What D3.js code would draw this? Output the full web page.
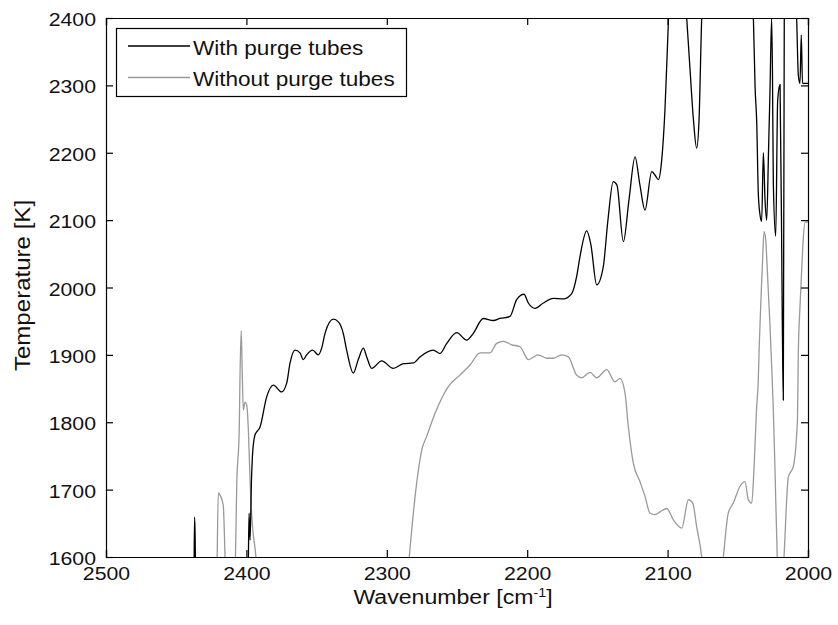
<!DOCTYPE html>
<html>
<head>
<meta charset="utf-8">
<script src="https://cdn.jsdelivr.net/npm/d3@7"></script>
<style>
  html, body { margin: 0; padding: 0; background: #fff; }
  svg { display: block; }
  text { font-family: "Liberation Sans", Arial, sans-serif; fill: #111; }
</style>
</head>
<body>
<svg id="chart" width="838" height="625"></svg>
<script>
// ---- Data ----
const xTicks = [2500, 2400, 2300, 2200, 2100, 2000];
const yTicks = [1600, 1700, 1800, 1900, 2000, 2100, 2200, 2300, 2400];
const seriesNames = ["With purge tubes", "Without purge tubes"];

// With purge tubes: [wavenumber, temperature]
const withPurge = [
  [2500, 1450], [2437.5, 1550], [2436.9, 1659], [2436.5, 1629], [2436.1, 1550],
  [2410, 1450], [2398.9, 1560], [2398.1, 1665], [2397.4, 1625], [2396.4, 1714],
  [2395.7, 1750], [2394.6, 1774], [2393.9, 1781], [2390.3, 1793], [2385.5, 1838],
  [2380.8, 1855], [2374.9, 1845], [2371.3, 1858], [2368.9, 1888], [2365.4, 1907],
  [2361.8, 1903], [2359.5, 1893], [2357.1, 1900], [2352.8, 1907], [2348.8, 1900],
  [2346.4, 1910], [2344.0, 1932], [2338.1, 1953], [2334.5, 1949], [2331.0, 1932],
  [2328.6, 1907], [2323.9, 1873], [2320.3, 1893], [2316.7, 1910], [2314.3, 1897],
  [2310.8, 1880], [2303.6, 1891], [2295.4, 1880], [2288.2, 1887], [2281.1, 1888],
  [2276.4, 1897], [2266.9, 1907], [2262.1, 1902], [2257.3, 1917], [2250.2, 1933],
  [2243.1, 1922], [2238.4, 1932], [2231.3, 1954], [2224.1, 1951], [2219.4, 1954],
  [2212.3, 1957], [2207.5, 1982], [2202.3, 1990], [2199.2, 1977], [2194.4, 1969],
  [2188.5, 1977], [2181.4, 1984], [2174.3, 1983], [2168.3, 1991], [2164.8, 2016],
  [2162.4, 2046], [2157.6, 2084], [2154.6, 2063], [2150.5, 2004], [2145.8, 2031],
  [2142.5, 2100], [2138.7, 2157], [2136.1, 2152], [2131.5, 2068], [2127.5, 2130],
  [2123.2, 2194], [2119.7, 2152], [2116.1, 2115], [2111.3, 2172], [2109.0, 2167],
  [2106.6, 2160], [2104.2, 2189], [2101.9, 2263], [2100.2, 2352], [2098.3, 2440],
  [2088.3, 2460], [2086.4, 2400], [2084.0, 2323], [2081.6, 2249], [2079.3, 2207],
  [2077.6, 2249], [2075.7, 2400], [2074.8, 2440], [2039.9, 2440], [2038.9, 2400],
  [2037.7, 2298], [2036.5, 2244], [2035.4, 2140], [2034.2, 2108], [2033.0, 2098],
  [2031.8, 2200], [2030.6, 2130], [2029.4, 2100], [2028.1, 2204], [2027.1, 2289],
  [2025.9, 2400], [2025.3, 2318], [2024.7, 2155], [2023.0, 2076], [2021.6, 2278],
  [2019.9, 2301], [2018.3, 1948], [2017.6, 1833], [2016.9, 2400], [2016.4, 2450],
  [2009.3, 2450], [2008.1, 2400], [2006.9, 2315], [2005.7, 2303], [2004.8, 2375],
  [2003.9, 2303], [2000, 2303]
];

// Without purge tubes: [wavenumber, temperature]
const withoutPurge = [
  [2500, 1450], [2440, 1450], [2421.3, 1550], [2420.0, 1695], [2418.8, 1692],
  [2416.5, 1677], [2415.2, 1600], [2414.5, 1550], [2408.8, 1550], [2407.8, 1600],
  [2406.9, 1705], [2405.1, 1789], [2404.6, 1863], [2403.7, 1936], [2403.0, 1878],
  [2402.2, 1818], [2401.0, 1830], [2399.8, 1826], [2398.6, 1789], [2397.4, 1714],
  [2396.0, 1655], [2393.2, 1600], [2391.8, 1560], [2370, 1450], [2290, 1450],
  [2285.6, 1560], [2284.0, 1600], [2278.7, 1710], [2275.1, 1759], [2271.6, 1779],
  [2265.7, 1813], [2256.2, 1853], [2247.9, 1870], [2240.7, 1885], [2233.6, 1903],
  [2226.5, 1903], [2221.7, 1917], [2217.0, 1920], [2211.0, 1915], [2205.1, 1912],
  [2199.2, 1893], [2192.1, 1900], [2186.1, 1895], [2181.4, 1895], [2175.4, 1900],
  [2170.7, 1897], [2164.8, 1870], [2161.2, 1866], [2155.3, 1874], [2150.5, 1866],
  [2143.4, 1878], [2137.5, 1860], [2133.9, 1865], [2130.3, 1843], [2128.0, 1794],
  [2124.4, 1739], [2119.7, 1712], [2116.1, 1690], [2112.5, 1665], [2109.0, 1663],
  [2105.4, 1667], [2100.6, 1672], [2095.9, 1655], [2089.9, 1643], [2085.2, 1685],
  [2082.1, 1680], [2079.3, 1645], [2075.7, 1600], [2074.1, 1566], [2062.0, 1566],
  [2060.3, 1600], [2056.8, 1665], [2053.2, 1680], [2048.4, 1705], [2044.9, 1712],
  [2042.5, 1685], [2040.1, 1680], [2038.5, 1729], [2036.7, 1818], [2035.4, 1863],
  [2034.7, 1915], [2033.5, 1982], [2032.3, 2044], [2031.3, 2083], [2030.1, 2071],
  [2029.4, 2044], [2028.3, 1996], [2027.1, 1945], [2025.9, 1885], [2024.7, 1818],
  [2023.5, 1729], [2021.9, 1600], [2020.7, 1550], [2018.5, 1550], [2017.1, 1600],
  [2014.0, 1719], [2010.5, 1734], [2007.5, 1804], [2006.9, 1903], [2005.7, 1972],
  [2004.5, 2026], [2003.3, 2075], [2002.1, 2097], [2000, 2097]
];

// ---- Layout ----
const svg = d3.select("#chart");
const mLeft = 106, mRight = 808, mTop = 18, mBottom = 557;
const stretch = 1.12; // reference font is wider than Liberation Sans

const x = d3.scaleLinear().domain([2500, 2000]).range([mLeft, mRight]);
const y = d3.scaleLinear().domain([1600, 2400]).range([mBottom, mTop]);

svg.append("defs").append("clipPath").attr("id", "plotclip")
  .append("rect").attr("x", mLeft).attr("y", mTop)
  .attr("width", mRight - mLeft).attr("height", mBottom - mTop);

const line = d3.line().x(d => x(d[0])).y(d => y(d[1])).curve(d3.curveMonotoneX);

const plot = svg.append("g").attr("clip-path", "url(#plotclip)");
plot.append("path").datum(withoutPurge)
  .attr("d", line).attr("fill", "none")
  .attr("stroke", "#999").attr("stroke-width", 1.3);
plot.append("path").datum(withPurge)
  .attr("d", line).attr("fill", "none")
  .attr("stroke", "#000").attr("stroke-width", 1.3);

// ---- Axes (MATLAB box style, inward ticks) ----
const tickLen = 7;
const fsTick = 19;

const axB = svg.append("g").attr("transform", `translate(0,${mBottom})`)
  .call(d3.axisBottom(x).tickValues(xTicks).tickSize(-tickLen).tickFormat(d3.format("d")));
const axT = svg.append("g").attr("transform", `translate(0,${mTop})`)
  .call(d3.axisTop(x).tickValues(xTicks).tickSize(-tickLen).tickFormat(""));
const axL = svg.append("g").attr("transform", `translate(${mLeft},0)`)
  .call(d3.axisLeft(y).tickValues(yTicks).tickSize(-tickLen).tickFormat(d3.format("d")));
const axR = svg.append("g").attr("transform", `translate(${mRight},0)`)
  .call(d3.axisRight(y).tickValues(yTicks).tickSize(-tickLen).tickFormat(""));

[axB, axT, axL, axR].forEach(a => {
  a.select(".domain").attr("stroke", "#000").attr("stroke-width", 1.2);
  a.selectAll(".tick line").attr("stroke", "#000").attr("stroke-width", 1.2);
  a.selectAll("text").attr("font-size", fsTick)
    .attr("font-family", "'Liberation Sans', Arial, sans-serif").attr("fill", "#111");
});
axB.selectAll(".tick text").attr("dy", null).attr("x", 0).attr("y", 0)
  .attr("transform", `translate(0,23) scale(${stretch},1)`);
axL.selectAll(".tick text").attr("dy", null).attr("x", 0).attr("y", 0)
  .attr("transform", `translate(-10,7.5) scale(${stretch},1)`);

// ---- Axis labels ----
const xl = svg.append("text")
  .attr("transform", `translate(453,603.5) scale(1.1,1)`)
  .attr("text-anchor", "middle").attr("font-size", 21);
xl.append("tspan").text("Wavenumber [cm");
xl.append("tspan").text("-1").attr("font-size", 13).attr("dy", -7);
xl.append("tspan").text("]").attr("dy", 7);

svg.append("text")
  .attr("transform", `translate(30,${(mTop + mBottom) / 2 - 2}) rotate(-90) scale(${stretch},1)`)
  .attr("text-anchor", "middle").attr("font-size", 21.5)
  .text("Temperature [K]");

// ---- Legend ----
const lg = svg.append("g");
lg.append("rect").attr("x", 116.5).attr("y", 28.5).attr("width", 290).attr("height", 68)
  .attr("fill", "#fff").attr("stroke", "#000").attr("stroke-width", 1.2);
const lgColors = ["#000", "#999"];
seriesNames.forEach((name, i) => {
  const ly = 46 + i * 31.5;
  lg.append("line").attr("x1", 128).attr("x2", 190).attr("y1", ly).attr("y2", ly)
    .attr("stroke", lgColors[i]).attr("stroke-width", 1.3);
  lg.append("text").attr("transform", `translate(193,${ly + 8.5}) scale(1.1,1)`)
    .attr("font-size", 20.5).text(name);
});
</script>
</body>
</html>
